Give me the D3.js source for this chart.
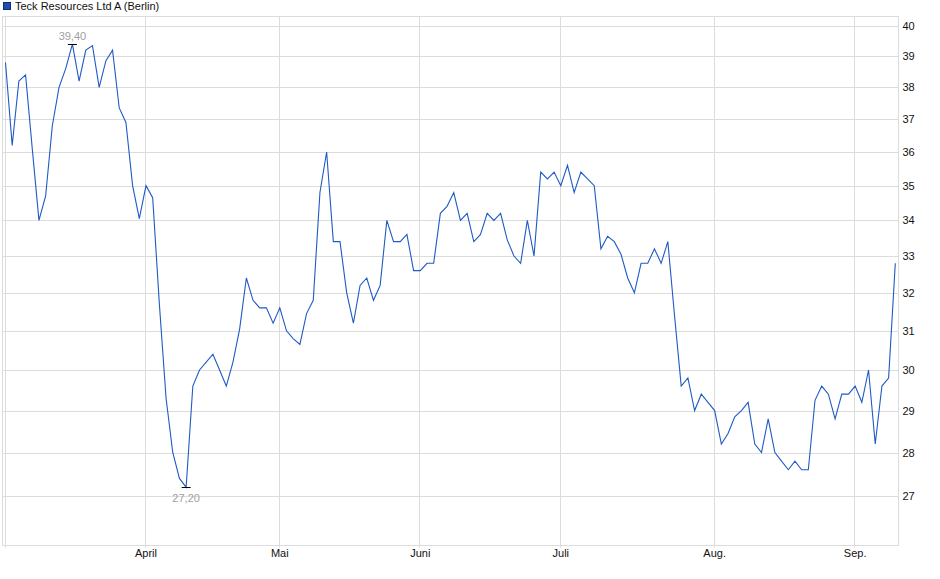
<!DOCTYPE html>
<html>
<head>
<meta charset="utf-8">
<script src="https://cdn.jsdelivr.net/npm/d3@7"></script>
<style>
  html, body { margin: 0; padding: 0; background: #fff; }
  svg { display: block; font-family: "Liberation Sans", Arial, sans-serif; }
</style>
</head>
<body>
<svg id="chart" width="940" height="579"></svg>
<script>
const seriesName = 'Teck Resources Ltd A (Berlin)';

// Schlusskurse, ein Wert pro Handelstag (Anfang Maerz bis Anfang September)
const prices = [
  38.8, 36.2, 38.2, 38.4, 36.1, 34.0, 34.7, 36.8, 38.0, 38.6,
  39.4, 38.2, 39.2, 39.35, 38.0, 38.85, 39.2, 37.35, 36.9, 35.0,
  34.05, 35.0, 34.65, 31.7, 29.3, 28.0, 27.4, 27.2, 29.6, 30.0,
  30.2, 30.4, 30.0, 29.6, 30.2, 31.05, 32.4, 31.8, 31.6, 31.6,
  31.2, 31.6, 31.0, 30.8, 30.65, 31.45, 31.8, 34.8, 36.0, 33.4,
  33.4, 32.0, 31.2, 32.2, 32.4, 31.8, 32.2, 34.0, 33.4, 33.4,
  33.6, 32.6, 32.6, 32.8, 32.8, 34.2, 34.4, 34.8, 34.0, 34.2,
  33.4, 33.6, 34.2, 34.0, 34.2, 33.45, 33.0, 32.8, 34.0, 33.0,
  35.4, 35.2, 35.4, 35.0, 35.6, 34.8, 35.4, 35.2, 35.0, 33.2,
  33.55, 33.4, 33.05, 32.4, 32.0, 32.8, 32.8, 33.2, 32.8, 33.4,
  31.4, 29.6, 29.8, 29.0, 29.4, 29.2, 29.0, 28.2, 28.45, 28.85,
  29.0, 29.2, 28.2, 28.0, 28.8, 28.0, 27.8, 27.6, 27.8, 27.6,
  27.6, 29.25, 29.6, 29.4, 28.8, 29.4, 29.4, 29.6, 29.2, 30.0,
  28.2, 29.6, 29.8, 32.8
];

// Monatsanfang als Index des ersten Handelstags
const monthIdx = [0, 21, 41, 62, 83, 106, 127];
const monthLabels = ['', 'April', 'Mai', 'Juni', 'Juli', 'Aug.', 'Sep.'];
const yTicks = [27, 28, 29, 30, 31, 32, 33, 34, 35, 36, 37, 38, 39, 40];

const svg = d3.select('#chart');
const frame = { left: 2.5, right: 898.5, top: 16.5, bottom: 545.5 };
const gridColor = '#dcdcdc';
const lineColor = '#1f5bc4';

const x = d3.scaleLinear().domain([0, prices.length - 1]).range([5.5, 895.3]);
const y = d3.scaleLog().domain([27, 40]).range([496, 26]);

// legend
svg.append('rect')
  .attr('x', 3.5).attr('y', 2.5).attr('width', 7).attr('height', 7)
  .attr('fill', '#1f4fae').attr('stroke', '#0d2f73').attr('stroke-width', 1);
svg.append('text')
  .attr('x', 15).attr('y', 10)
  .style('font-size', '11px').attr('fill', '#111')
  .text(seriesName);

// horizontal grid
svg.append('g')
  .selectAll('line')
  .data(yTicks)
  .join('line')
  .attr('x1', frame.left).attr('x2', frame.right)
  .attr('y1', d => Math.round(y(d)) + 0.5).attr('y2', d => Math.round(y(d)) + 0.5)
  .attr('stroke', gridColor);

// vertical grid at month starts
svg.append('g')
  .selectAll('line')
  .data(monthIdx)
  .join('line')
  .attr('x1', d => Math.round(x(d)) - 0.5).attr('x2', d => Math.round(x(d)) - 0.5)
  .attr('y1', frame.top).attr('y2', frame.bottom + 2)
  .attr('stroke', gridColor);

// frame
svg.append('rect')
  .attr('x', frame.left).attr('y', frame.top)
  .attr('width', frame.right - frame.left).attr('height', frame.bottom - frame.top)
  .attr('fill', 'none').attr('stroke', gridColor);

// right axis labels
const yAxis = d3.axisRight(y).tickValues(yTicks).tickFormat(d3.format('d')).tickSize(0).tickPadding(4);
svg.append('g')
  .attr('transform', `translate(${frame.right},0)`)
  .call(yAxis)
  .call(g => g.select('.domain').remove())
  .call(g => g.selectAll('text')
    .style('font-size', '11px')
    .style('font-family', '"Liberation Sans", Arial, sans-serif')
    .attr('fill', '#111'));

// month labels
svg.append('g')
  .selectAll('text')
  .data(monthIdx)
  .join('text')
  .attr('x', d => x(d))
  .attr('y', 557)
  .attr('text-anchor', 'middle')
  .style('font-size', '11px')
  .attr('fill', '#111')
  .text((d, i) => monthLabels[i]);

// price line
const line = d3.line()
  .x((d, i) => x(i))
  .y(d => y(d));
svg.append('path')
  .datum(prices)
  .attr('d', line)
  .attr('fill', 'none')
  .attr('stroke', lineColor)
  .attr('stroke-width', 1.1)
  .attr('stroke-linejoin', 'miter');

// high / low markers
const fmt = v => d3.format('.2f')(v).replace('.', ',');
const hiIdx = d3.maxIndex(prices);
const loIdx = d3.minIndex(prices);
[[hiIdx, -5], [loIdx, 14]].forEach(([i, dy]) => {
  const px = x(i), py = Math.round(y(prices[i])) + 0.5;
  svg.append('line')
    .attr('x1', px - 4.5).attr('x2', px + 4.5)
    .attr('y1', py).attr('y2', py)
    .attr('stroke', '#000').attr('stroke-width', 1);
  svg.append('text')
    .attr('x', px).attr('y', py + dy)
    .attr('text-anchor', 'middle')
    .style('font-size', '11px')
    .attr('fill', '#a0a0a0')
    .text(fmt(prices[i]));
});
</script>
</body>
</html>
